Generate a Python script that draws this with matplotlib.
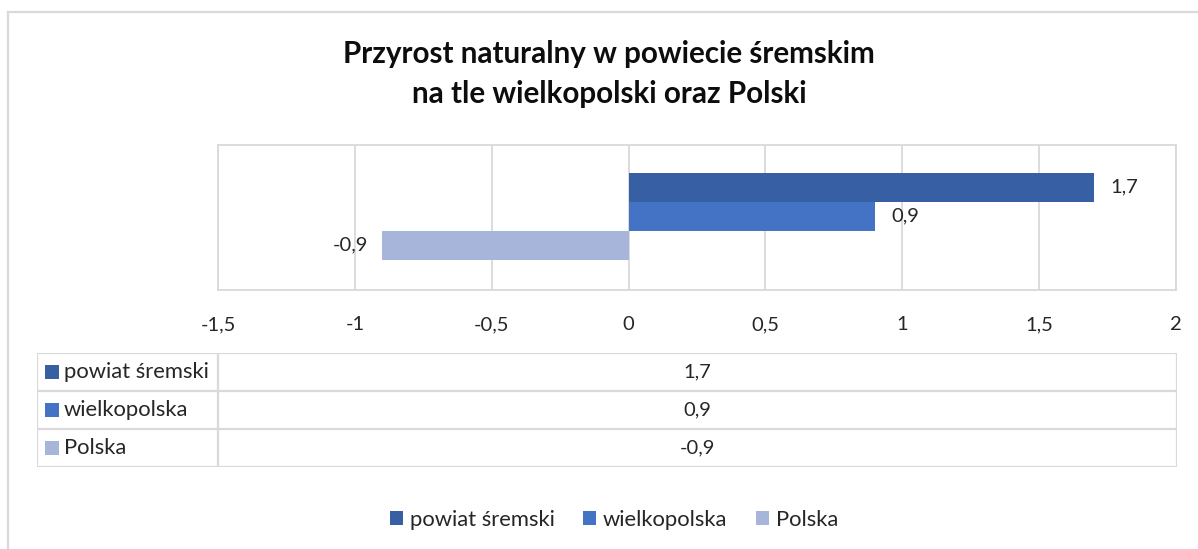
import matplotlib
matplotlib.use("Agg")
import matplotlib.pyplot as plt
from matplotlib.patches import Rectangle
from matplotlib.lines import Line2D

plt.rcParams['font.family'] = ['Lato', 'DejaVu Sans']

title = "Przyrost naturalny w powiecie śremskim\nna tle wielkopolski oraz Polski"
series = ["powiat śremski", "wielkopolska", "Polska"]
values = [1.7, 0.9, -0.9]
colors = ["#375FA4", "#4472C4", "#A7B5DA"]
xticks = [-1.5, -1, -0.5, 0, 0.5, 1, 1.5, 2]
xtick_labels = ["-1,5", "-1", "-0,5", "0", "0,5", "1", "1,5", "2"]

def fmt(v):
    return f"{v:g}".replace(".", ",")

W, H = 1198, 549
fig = plt.figure(figsize=(W / 100, H / 100), dpi=100)

def fx(px):
    return px / W

def fy(py):
    return 1 - py / H

GRID = "#D9D9D9"
TXT = "#262626"
NUM_FS = 14.5
LAB_FS = 15.8

# outer chart border (left + top)
fig.add_artist(Line2D([fx(7.5), fx(7.5)], [fy(12), fy(560)], color=GRID, lw=1.6))
fig.add_artist(Line2D([fx(7.5), fx(1210)], [fy(12), fy(12)], color=GRID, lw=1.6))

fig.text(fx(609), fy(74), title, ha="center", va="center", fontsize=21.3,
         fontweight="bold", color="#0D0D0D", linespacing=1.5)

# main plot
ax = fig.add_axes([fx(218), fy(290), fx(1176) - fx(218), (290 - 145) / H])
bar_h = 0.2
n = len(series)
for i, (s, v, c) in enumerate(zip(series, values, colors)):
    ypos = ((n - 1) / 2 - i) * bar_h
    ax.barh(ypos, v, height=bar_h, color=c, zorder=3)
    if v >= 0:
        ax.annotate(fmt(v), (v, ypos), xytext=(12, 0), textcoords="offset points",
                    ha="left", va="center", fontsize=NUM_FS, color=TXT)
    else:
        ax.annotate(fmt(v), (v, ypos), xytext=(-10, 0), textcoords="offset points",
                    ha="right", va="center", fontsize=NUM_FS, color=TXT)

ax.set_xlim(xticks[0], xticks[-1])
ax.set_ylim(-0.51, 0.49)
ax.set_xticks(xticks)
ax.set_xticklabels(xtick_labels, fontsize=NUM_FS, color=TXT)
ax.set_yticks([])
ax.tick_params(axis="x", length=0, pad=19)
ax.grid(axis="x", color=GRID, lw=1.3, zorder=0)
for sp in ax.spines.values():
    sp.set_color(GRID)
    sp.set_linewidth(1.3)

# data table
tax = fig.add_axes([fx(37), fy(467), fx(1177) - fx(37), (467 - 353) / H])
tax.set_xlim(37, 1177)
tax.set_ylim(467, 353)
tax.axis("off")
row_edges = [353, 391, 429, 467]
tlw = 1.6
for yy in row_edges:
    tax.plot([37, 1177], [yy, yy], color=GRID, lw=tlw, solid_capstyle="projecting")
for xx in [37, 218, 1177]:
    tax.plot([xx, xx], [353, 467], color=GRID, lw=tlw, solid_capstyle="projecting")
for i, (s, v, c) in enumerate(zip(series, values, colors)):
    yc = (row_edges[i] + row_edges[i + 1]) / 2
    tax.add_patch(Rectangle((45, yc - 7), 14, 14, color=c, lw=0))
    tax.text(64, yc, s, ha="left", va="center", fontsize=LAB_FS, color=TXT)
    tax.text((218 + 1177) / 2, yc, fmt(v), ha="center", va="center",
             fontsize=NUM_FS, color=TXT)

# legend
handles = [Rectangle((0, 0), 1, 1, color=c, lw=0) for c in colors]
fig.legend(handles, series, loc="center", bbox_to_anchor=(fx(614), fy(520)),
           ncol=3, frameon=False, fontsize=LAB_FS, handlelength=0.6, handleheight=0.6,
           handletextpad=0.3, columnspacing=1.3, labelcolor=TXT)

fig.savefig("out.png", dpi=100)
